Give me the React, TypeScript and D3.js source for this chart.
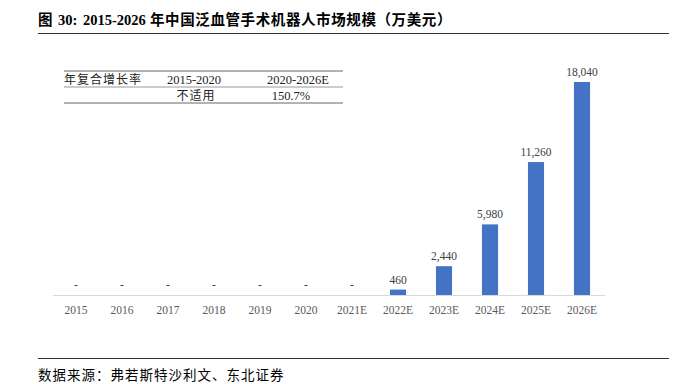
import React from "react";
import * as d3 from "d3";

const categories = ["2015","2016","2017","2018","2019","2020","2021E","2022E","2023E","2024E","2025E","2026E"];
const values = [0,0,0,0,0,0,0,460,2440,5980,11260,18040];
const tableHeader = ["年复合增长率","2015-2020","2020-2026E"];
const tableRow = ["","不适用","150.7%"];

const FONT = "'Liberation Serif', 'Noto Sans CJK SC', serif";

export default function App() {
  const W = 681, H = 384;
  const x = d3.scaleBand().domain(categories).range([53, 605]).paddingInner(0.65).paddingOuter(0.325);
  const y = d3.scaleLinear().domain([0, 18040]).range([295, 82]);
  const fmt = d3.format(",");
  return (
    <svg width={W} height={H} style={{ position: "absolute", left: 0, top: 0, background: "#fff" }}>
      <text y={25} fontFamily={FONT} fontWeight="bold" fontSize={14.5} fill="#000">
        <tspan x={38}>图</tspan>
        <tspan x={58}>30:</tspan>
        <tspan x={83}>2015-2026</tspan>
        <tspan x={150} letterSpacing={0.6}>年中国泛血管手术机器人市场规模（万美元）</tspan>
      </text>
      <line x1={38} x2={669} y1={33.5} y2={33.5} stroke="#333" strokeWidth={1.2} />
      {/* table */}
      <line x1={64} x2={343} y1={71} y2={71} stroke="#999" strokeWidth={1.5} />
      <line x1={64} x2={343} y1={87} y2={87} stroke="#999" strokeWidth={1} />
      <line x1={64} x2={343} y1={103} y2={103} stroke="#999" strokeWidth={1.5} />
      <text x={64} y={84} fontFamily={FONT} fontSize={12} letterSpacing={1} fill="#222">{tableHeader[0]}</text>
      <text x={194} y={84} textAnchor="middle" fontFamily={FONT} fontSize={12.5} fill="#222">{tableHeader[1]}</text>
      <text x={298} y={84} textAnchor="middle" fontFamily={FONT} fontSize={12.5} fill="#222">{tableHeader[2]}</text>
      <text x={196} y={100} textAnchor="middle" fontFamily={FONT} fontSize={12} letterSpacing={1} fill="#222">{tableRow[1]}</text>
      <text x={291} y={100} textAnchor="middle" fontFamily={FONT} fontSize={12.5} fill="#222">{tableRow[2]}</text>
      {/* bars */}
      {categories.map((c, i) => {
        const v = values[i];
        const bx = x(c)!;
        const cx = bx + x.bandwidth() / 2;
        return (
          <g key={c}>
            {v > 0 && <rect x={bx} y={y(v)} width={x.bandwidth()} height={y(0) - y(v)} fill="#4472C4" />}
            <text x={cx} y={v > 0 ? y(v) - 6 : 288} textAnchor="middle" fontFamily={FONT} fontSize={11.5} fill="#404040">{v > 0 ? fmt(v) : "-"}</text>
            <text x={cx} y={314} textAnchor="middle" fontFamily={FONT} fontSize={11.5} fill="#595959">{c}</text>
          </g>
        );
      })}
      <line x1={53} x2={605} y1={295.5} y2={295.5} stroke="#d9d9d9" strokeWidth={1} />
      <line x1={38} x2={669} y1={358.5} y2={358.5} stroke="#333" strokeWidth={1.2} />
      <text x={38} y={380} fontFamily={FONT} fontSize={13.5} letterSpacing={1} fill="#000">数据来源：弗若斯特沙利文、东北证券</text>
    </svg>
  );
}
